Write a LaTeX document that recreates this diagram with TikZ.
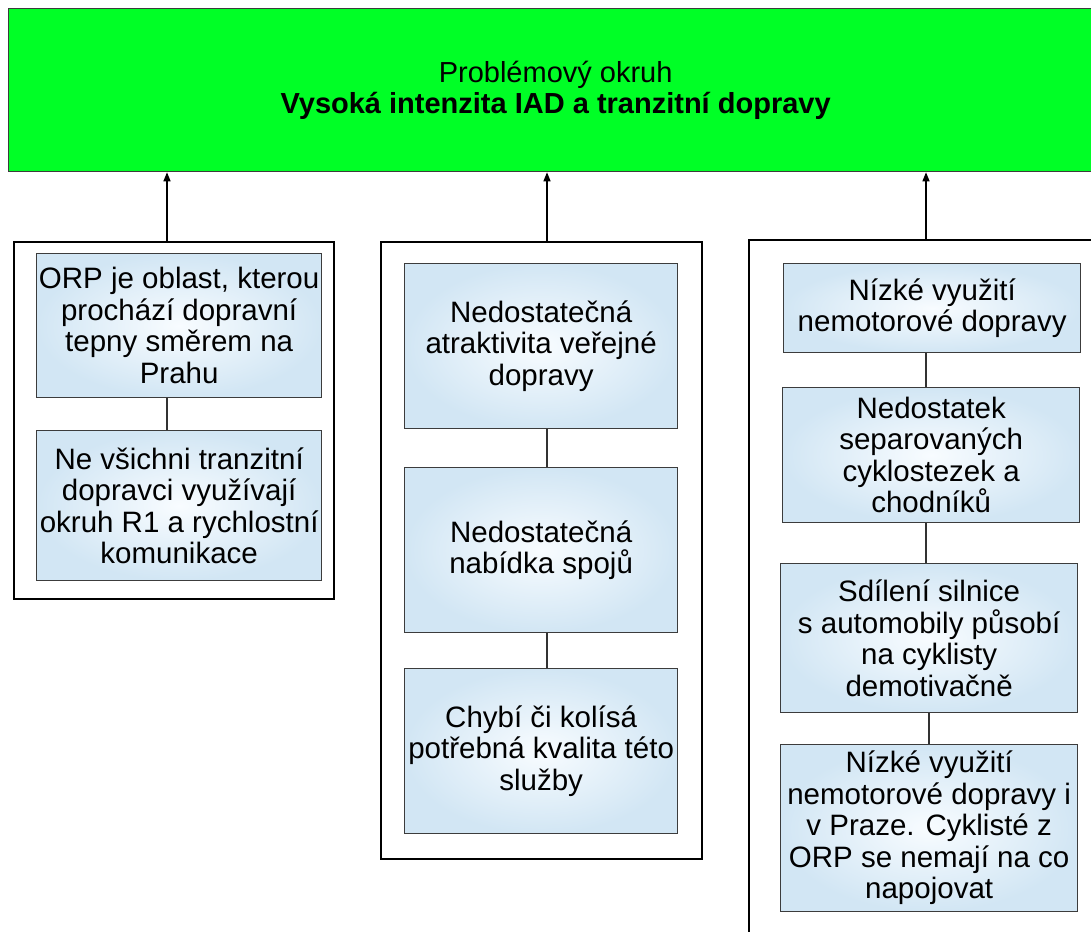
\documentclass[tikz,border=0pt]{standalone}
\usepackage{fontspec}
\setmainfont{Liberation Sans}
\usetikzlibrary{arrows.meta}
\definecolor{topgreen}{RGB}{0,255,38}
\definecolor{bin}{RGB}{248,252,255}
\definecolor{bout}{RGB}{210,230,244}
\definecolor{boxline}{RGB}{60,60,60}
\definecolor{linkgray}{RGB}{50,50,50}
\begin{document}
\begin{tikzpicture}[x=1pt,y=-1pt,
  inbox/.style={draw=boxline, line width=1.3pt, inner color=bin, outer color=bout,
    inner sep=0pt, align=center, font=\fontsize{29.5}{31.5}\selectfont, anchor=north west},
  groupbox/.style={draw=black, line width=2.2pt, fill=white, inner sep=0pt, anchor=north west},
  topbox/.style={draw=boxline, line width=1.3pt, fill=topgreen, inner sep=0pt, align=center,
    font=\fontsize{29}{31}\selectfont, anchor=north west},
  arr/.style={-{Triangle[length=9pt,width=7pt]}, line width=1.3pt, draw=black},
  link/.style={draw=linkgray, line width=1.2pt}]
\useasboundingbox (0,0) rectangle (1091,931);
\clip (0,0) rectangle (1091,931);

% top problem box
\node[topbox, minimum width=1094pt, minimum height=163pt] (top) at (8,8)
  {Problémový okruh\\\textbf{Vysoká intenzita IAD a tranzitní dopravy}};

% group boxes
\node[groupbox, minimum width=320pt, minimum height=357pt] (lo) at (13,241) {};
\node[groupbox, minimum width=321pt, minimum height=617pt] (mo) at (380,241) {};
\node[groupbox, minimum width=400pt, minimum height=720pt] (ro) at (748,239) {};

% left column
\node[inbox, minimum width=285pt, minimum height=144pt] (l1) at (36,253)
  {ORP je oblast, kterou\\prochází dopravní\\tepny směrem na\\Prahu};
\node[inbox, minimum width=285pt, minimum height=150pt] (l2) at (36,430)
  {Ne všichni tranzitní\\dopravci využívají\\okruh R1 a rychlostní\\komunikace};

% middle column
\node[inbox, minimum width=273pt, minimum height=165pt] (m1) at (404,263)
  {Nedostatečná\\atraktivita veřejné\\dopravy};
\node[inbox, minimum width=273pt, minimum height=165pt] (m2) at (404,467)
  {Nedostatečná\\nabídka spojů};
\node[inbox, minimum width=273pt, minimum height=165pt] (m3) at (404,668)
  {Chybí či kolísá\\potřebná kvalita této\\služby};

% right column
\node[inbox, minimum width=297pt, minimum height=89pt] (r1) at (783,263)
  {Nízké využití\\nemotorové dopravy};
\node[inbox, minimum width=297pt, minimum height=135pt] (r2) at (782,387)
  {Nedostatek\\separovaných\\cyklostezek a\\chodníků};
\node[inbox, minimum width=297pt, minimum height=149pt] (r3) at (780,563)
  {Sdílení silnice\\s automobily působí\\na cyklisty\\demotivačně};
\node[inbox, minimum width=297pt, minimum height=167pt] (r4) at (780,744)
  {Nízké využití\\nemotorové dopravy i\\v Praze. Cyklisté z\\ORP se nemají na co\\napojovat};

% connector x positions
\coordinate (xa) at (167,0);
\coordinate (xb) at (547,0);
\coordinate (xc) at (926,0);
\coordinate (xd) at (929,0);

% arrows to the problem box
\draw[arr] (lo.north -| xa) -- (top.south -| xa);
\draw[arr] (mo.north -| xb) -- (top.south -| xb);
\draw[arr] (ro.north -| xc) -- (top.south -| xc);

% links inside groups
\draw[link] (l1.south -| xa) -- (l2.north -| xa);
\draw[link] (m1.south -| xb) -- (m2.north -| xb);
\draw[link] (m2.south -| xb) -- (m3.north -| xb);
\draw[link] (r1.south -| xc) -- (r2.north -| xc);
\draw[link] (r2.south -| xc) -- (r3.north -| xc);
\draw[link] (r3.south -| xd) -- (r4.north -| xd);
\end{tikzpicture}
\end{document}
